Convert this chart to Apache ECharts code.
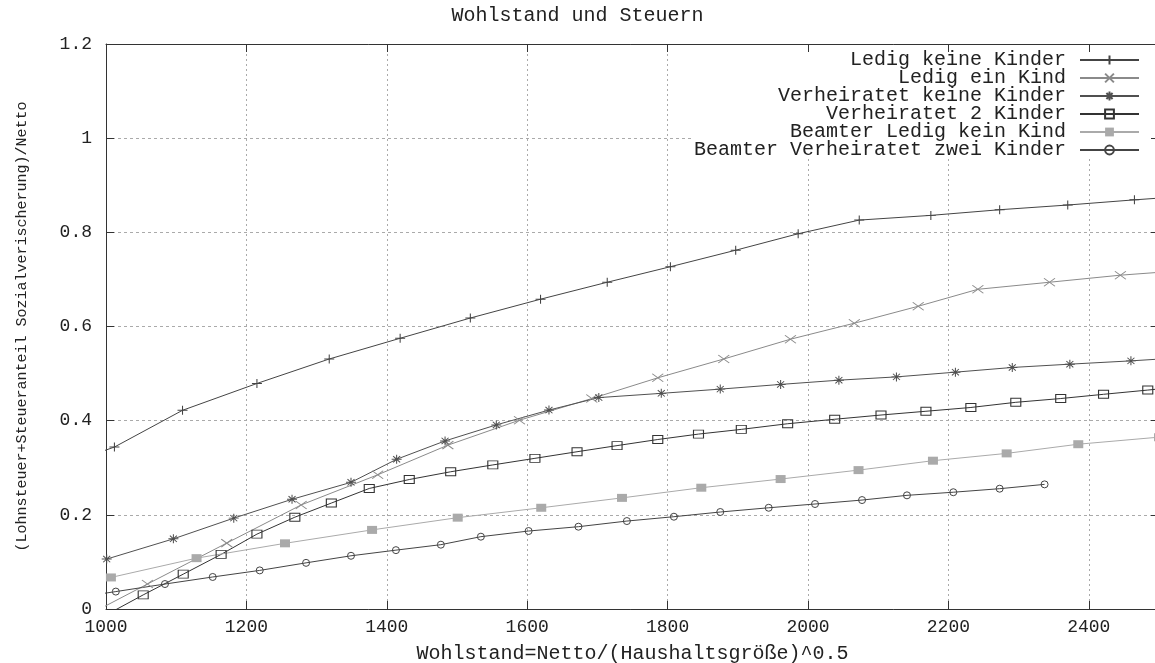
<!DOCTYPE html>
<html>
<head>
<meta charset="utf-8">
<script src="https://cdn.jsdelivr.net/npm/echarts@6/dist/echarts.min.js"></script>
<style>html,body{margin:0;padding:0;background:#fff}#c{width:1155px;height:663px}</style>
</head>
<body>
<div id="c"></div>
<script>
const titleText = 'Wohlstand und Steuern';
const xName = 'Wohlstand=Netto/(Haushaltsgröße)^0.5';
const yName = '(Lohnsteuer+Steueranteil Sozialverischerung)/Netto';
const seriesNames = ['Ledig keine Kinder', 'Ledig ein Kind', 'Verheiratet keine Kinder', 'Verheiratet 2 Kinder', 'Beamter Ledig kein Kind', 'Beamter Verheiratet zwei Kinder'];

const ledigKeineX = [910, 1012, 1109, 1215, 1318, 1419, 1519, 1619, 1714, 1804, 1897, 1986, 2073, 2175, 2273, 2370, 2465, 2560];
const ledigKeineY = [0.29, 0.344, 0.422, 0.479, 0.531, 0.575, 0.618, 0.658, 0.694, 0.727, 0.762, 0.797, 0.826, 0.836, 0.848, 0.858, 0.869, 0.879];

const ledigEinX = [955, 1059, 1172, 1278, 1387, 1487, 1589, 1692, 1786, 1880, 1975, 2066, 2157, 2242, 2344, 2445, 2545];
const ledigEinY = [-0.028, 0.053, 0.14, 0.221, 0.285, 0.348, 0.401, 0.447, 0.491, 0.531, 0.573, 0.607, 0.643, 0.679, 0.694, 0.709, 0.72];

const verhKeineX = [1001, 1096, 1182, 1265, 1349, 1414, 1483, 1556, 1631, 1702, 1791, 1875, 1961, 2044, 2126, 2210, 2291, 2373, 2460, 2545];
const verhKeineY = [0.106, 0.149, 0.193, 0.233, 0.269, 0.318, 0.357, 0.391, 0.4225, 0.449, 0.458, 0.467, 0.477, 0.486, 0.493, 0.503, 0.513, 0.520, 0.527, 0.535];

const verhZweiX = [996, 1053, 1110, 1164, 1215, 1269, 1321, 1375, 1432, 1491, 1551, 1611, 1671, 1728, 1786, 1844, 1905, 1971, 2038, 2104, 2168, 2232, 2296, 2360, 2421, 2484, 2545];
const verhZweiY = [-0.016, 0.030, 0.074, 0.116, 0.159, 0.195, 0.225, 0.256, 0.275, 0.2915, 0.306, 0.320, 0.334, 0.347, 0.360, 0.3715, 0.3815, 0.3935, 0.403, 0.412, 0.420, 0.428, 0.439, 0.447, 0.456, 0.465, 0.474];

const beamterLedigX = [1007, 1129, 1255, 1379, 1501, 1620, 1735, 1848, 1961, 2072, 2178, 2283, 2385, 2500];
const beamterLedigY = [0.067, 0.108, 0.1395, 0.168, 0.194, 0.215, 0.236, 0.2576, 0.276, 0.295, 0.315, 0.3305, 0.350, 0.365];

const beamterVerhX = [946, 1014, 1084, 1152, 1219, 1285, 1349, 1413, 1477, 1534, 1602, 1673, 1742, 1809, 1875, 1944, 2010, 2077, 2141, 2207, 2273, 2337];
const beamterVerhY = [0.022, 0.037, 0.053, 0.068, 0.082, 0.098, 0.113, 0.125, 0.1366, 0.1536, 0.1656, 0.1748, 0.1868, 0.196, 0.206, 0.215, 0.223, 0.2314, 0.2414, 0.248, 0.2555, 0.2647];

const xTicks = [1000, 1200, 1400, 1600, 1800, 2000, 2200, 2400];
const yTicks = [0, 0.2, 0.4, 0.6, 0.8, 1, 1.2];

function zip(xs, ys) { return xs.map((x, i) => [x, ys[i]]); }

const FONT = 'Liberation Mono';
const TXT = '#222';

function mkSeries(name, xs, ys, color, symbol, size, filled) {
  return {
    name: name,
    type: 'line',
    data: zip(xs, ys),
    symbol: symbol,
    symbolSize: size,
    showAllSymbol: true,
    clip: true,
    lineStyle: { color: color, width: 1 },
    itemStyle: filled
      ? { color: color, borderWidth: 0 }
      : { color: 'rgba(0,0,0,0)', borderColor: color, borderWidth: 1 },
    emphasis: { disabled: true },
    animation: false
  };
}

const axisLineCommon = { show: true, onZero: false, lineStyle: { color: '#333', width: 1 } };
const tickCommon = { show: true, inside: true, length: 8, lineStyle: { color: '#333' } };

const chart = echarts.init(document.getElementById('c'), null, { renderer: 'canvas' });
chart.setOption({
  animation: false,
  backgroundColor: '#fff',
  title: {
    text: titleText, left: 'center', top: 6, padding: 0,
    textStyle: { fontFamily: FONT, fontSize: 20, fontWeight: 'normal', color: TXT }
  },
  legend: {
    orient: 'vertical', right: 15, top: 50, align: 'right',
    itemWidth: 59, itemHeight: 11, itemGap: -2, padding: 0,
    textStyle: { fontFamily: FONT, fontSize: 20, color: TXT, padding: [0, 9, 0, 0] },
    data: seriesNames, z: 5
  },
  graphic: [{
    type: 'rect', z: 1, silent: true,
    shape: { x: 694, y: 45, width: 461, height: 113 },
    style: { fill: '#fff' }
  }],
  grid: { left: 106, top: 44, right: -4, bottom: 54, containLabel: false, outerBoundsMode: 'none' },
  xAxis: [{
    type: 'value', min: 1000, max: 2500, interval: 200, z: 0,
    name: xName, nameLocation: 'middle', nameGap: 35,
    nameTextStyle: { fontFamily: FONT, fontSize: 20, color: TXT },
    axisLine: axisLineCommon,
    axisTick: tickCommon,
    axisLabel: { fontFamily: FONT, fontSize: 18, color: TXT, margin: 9, showMaxLabel: false,
      formatter: v => (xTicks.indexOf(v) >= 0 ? String(v) : '') },
    splitLine: { show: true, lineStyle: { color: '#aaa', width: 1, type: [2, 3] } }
  }, {
    type: 'value', position: 'top', min: 1000, max: 2500, interval: 200, z: 3,
    axisLine: axisLineCommon,
    axisTick: tickCommon,
    axisLabel: { show: false }, splitLine: { show: false }
  }],
  yAxis: [{
    type: 'value', min: 0, max: 1.2, interval: 0.2, z: 0,
    name: yName, nameLocation: 'middle', nameGap: 76, nameRotate: 90,
    nameTextStyle: { fontFamily: FONT, fontSize: 15, color: TXT },
    axisLine: axisLineCommon,
    axisTick: tickCommon,
    axisLabel: { fontFamily: FONT, fontSize: 18, color: TXT, margin: 14,
      formatter: v => { const t = yTicks.find(k => Math.abs(k - v) < 1e-9); return t === undefined ? '' : String(t); } },
    splitLine: { show: true, lineStyle: { color: '#aaa', width: 1, type: [3, 3] } }
  }, {
    type: 'value', position: 'right', min: 0, max: 1.2, interval: 0.2, z: 3,
    axisLine: axisLineCommon,
    axisTick: tickCommon,
    axisLabel: { show: false }, splitLine: { show: false }
  }],
  series: [
    mkSeries(seriesNames[0], ledigKeineX, ledigKeineY, '#444', 'path://M0,5L10,5M5,0L5,10', [10, 9], false),
    mkSeries(seriesNames[1], ledigEinX, ledigEinY, '#8a8a8a', 'path://M0,0L10,10M10,0L0,10', [11, 8], false),
    mkSeries(seriesNames[2], verhKeineX, verhKeineY, '#505050', 'path://M0,5L10,5M5,0L5,10M1.5,1.5L8.5,8.5M8.5,1.5L1.5,8.5', [10, 9], false),
    mkSeries(seriesNames[3], verhZweiX, verhZweiY, '#333', 'path://M0,0L10,0L10,8L0,8Z', [10, 8], false),
    mkSeries(seriesNames[4], beamterLedigX, beamterLedigY, '#aaaaaa', 'rect', [10, 8], true),
    mkSeries(seriesNames[5], beamterVerhX, beamterVerhY, '#444', 'circle', 7, false)
  ]
});
</script>
</body>
</html>
